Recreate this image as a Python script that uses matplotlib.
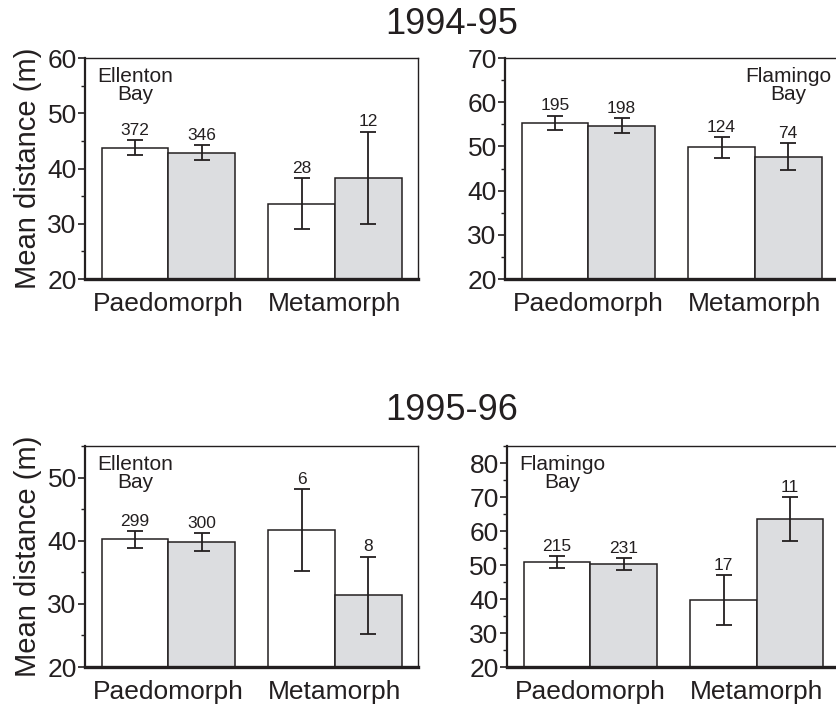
import matplotlib.pyplot as plt
from matplotlib.ticker import MultipleLocator

plt.rcParams['font.family'] = ['Liberation Sans', 'DejaVu Sans']

groups = ["Paedomorph", "Metamorph"]

# mean distance (m) and error, [Paedomorph white, Paedomorph grey, Metamorph white, Metamorph grey]
ell_9495 = [43.8, 42.9, 33.6, 38.3]
ell_9495_err = [1.3, 1.3, 4.6, 8.4]
ell_9495_n = ["372", "346", "28", "12"]

fla_9495 = [55.4, 54.7, 49.8, 47.7]
fla_9495_err = [1.6, 1.7, 2.35, 3.0]
fla_9495_n = ["195", "198", "124", "74"]

ell_9596 = [40.2, 39.8, 41.7, 31.4]
ell_9596_err = [1.4, 1.45, 6.55, 6.1]
ell_9596_n = ["299", "300", "6", "8"]

fla_9596 = [50.8, 50.2, 39.6, 63.6]
fla_9596_err = [1.8, 1.75, 7.35, 6.5]
fla_9596_n = ["215", "231", "17", "11"]

xpos = [0, 1, 2.5, 3.5]
fills = ["white", "#dcdde0", "white", "#dcdde0"]
ink = "#231f20"

fig = plt.figure(figsize=(8.37, 7.08), dpi=100)


def panel(rect, vals, errs, ns, ylim, site, site_xy, ylabel=False):
    ax = fig.add_axes(rect)
    ax.bar(xpos, vals, width=1.0, bottom=0, color=fills, edgecolor=ink,
           linewidth=1.1, zorder=2)
    ax.errorbar(xpos, vals, yerr=errs, fmt="none", ecolor=ink,
                elinewidth=1.3, capsize=6, capthick=1.3, zorder=3)
    for x, v, e, n in zip(xpos, vals, errs, ns):
        ax.annotate(n, (x, v + e), xytext=(0, 1.5), textcoords="offset points",
                    ha="center", va="bottom", fontsize=12.5, color=ink)
    ax.set_xlim(-0.75, 4.25)
    ax.set_ylim(*ylim)
    ax.yaxis.set_major_locator(MultipleLocator(10))
    ax.yaxis.set_minor_locator(MultipleLocator(5))
    ax.tick_params(axis="y", which="major", direction="out", length=5,
                   width=1.2, labelsize=19, colors=ink, pad=1)
    ax.tick_params(axis="y", which="minor", direction="out", length=3, width=1.0,
                   colors=ink)
    ax.set_xticks([0.5, 3.0])
    ax.set_xticklabels(groups)
    ax.tick_params(axis="x", length=0, labelsize=19, colors=ink, pad=9)
    for side, lw in (("left", 1.6), ("bottom", 2.4), ("top", 1.0), ("right", 1.0)):
        ax.spines[side].set_linewidth(lw)
        ax.spines[side].set_color(ink)
    ax.text(site_xy[0], site_xy[1], site, transform=ax.transAxes, ha="center",
            va="top", fontsize=15, color=ink, linespacing=0.95)
    if ylabel:
        ax.set_ylabel("Mean distance (m)", fontsize=21, color=ink, labelpad=4)
    return ax


w, h = 0.398, 0.3121
panel([0.1016, 0.6059, w, h], ell_9495, ell_9495_err, ell_9495_n, (20, 60),
      "Ellenton\nBay", (0.15, 0.96), ylabel=True)
panel([0.6034, 0.6059, w, h], fla_9495, fla_9495_err, fla_9495_n, (20, 70),
      "Flamingo\nBay", (0.85, 0.96))
panel([0.1016, 0.0579, w, h], ell_9596, ell_9596_err, ell_9596_n, (20, 55),
      "Ellenton\nBay", (0.15, 0.96), ylabel=True)
panel([0.6057, 0.0579, w, h], fla_9596, fla_9596_err, fla_9596_n, (20, 85),
      "Flamingo\nBay", (0.165, 0.96))

fig.text(0.54, 0.966, "1994-95", ha="center", va="center", fontsize=26, color=ink)
fig.text(0.54, 0.42, "1995-96", ha="center", va="center", fontsize=26, color=ink)

fig.savefig("out.png", dpi=100)
